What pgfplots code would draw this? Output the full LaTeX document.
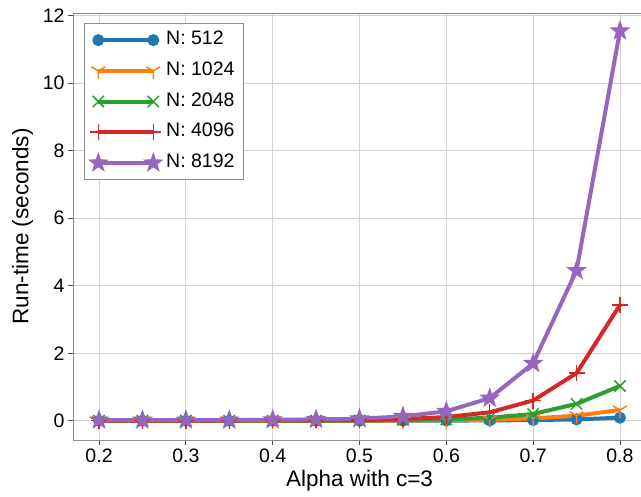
\documentclass[border=0pt]{standalone}
\usepackage{pgfplots}
\pgfplotsset{compat=1.18}
\usepackage{fontspec}
\setmainfont{Liberation Sans}
\definecolor{c0}{HTML}{1F77B4}
\definecolor{c1}{HTML}{FF7F0E}
\definecolor{c2}{HTML}{2CA02C}
\definecolor{c3}{HTML}{D62728}
\definecolor{c4}{HTML}{9467BD}
\pgfdeclareplotmark{fstar}{%
  \pgfpathmoveto{\pgfqpointpolar{90}{1.25\pgfplotmarksize}}%
  \pgfpathlineto{\pgfqpointpolar{126}{0.5\pgfplotmarksize}}%
  \pgfpathlineto{\pgfqpointpolar{162}{1.25\pgfplotmarksize}}%
  \pgfpathlineto{\pgfqpointpolar{198}{0.5\pgfplotmarksize}}%
  \pgfpathlineto{\pgfqpointpolar{234}{1.25\pgfplotmarksize}}%
  \pgfpathlineto{\pgfqpointpolar{270}{0.5\pgfplotmarksize}}%
  \pgfpathlineto{\pgfqpointpolar{306}{1.25\pgfplotmarksize}}%
  \pgfpathlineto{\pgfqpointpolar{342}{0.5\pgfplotmarksize}}%
  \pgfpathlineto{\pgfqpointpolar{18}{1.25\pgfplotmarksize}}%
  \pgfpathlineto{\pgfqpointpolar{54}{0.5\pgfplotmarksize}}%
  \pgfpathclose\pgfusepathqfillstroke}
\begin{document}
\begin{tikzpicture}
\begin{axis}[
  scale only axis,
  width=573pt, height=427pt,
  xmin=0.17, xmax=0.83,
  ymin=-0.57, ymax=12.08,
  xtick={0.2,0.3,0.4,0.5,0.6,0.7,0.8},
  ytick={0,2,4,6,8,10,12},
  xticklabel style={/pgf/number format/.cd, fixed, fixed zerofill, precision=1},
  /pgf/number format/assume math mode=true,
  ticklabel style={font=\fontsize{19.5}{22}\selectfont},
  tick pos=left,
  tick align=outside,
  major tick length=5pt,
  every tick/.style={black!70, line width=0.8pt},
  axis line style={black!45, line width=0.8pt},
  grid=major,
  major grid style={black!18, line width=0.9pt},
  xlabel={Alpha with c=3},
  ylabel={Run-time (seconds)},
  label style={font=\fontsize{22.5}{26}\selectfont},
  xlabel style={yshift=-1pt},
  ylabel style={yshift=3pt},
  legend cell align=left,
  legend style={at={(0,1)}, anchor=north west, xshift=11pt, yshift=-10pt,
    draw=black!45, line width=0.8pt, font=\fontsize{19.5}{22}\selectfont,
    row sep=7.2pt, inner xsep=5pt, inner ysep=5pt,
    nodes={text height=13.5pt, text depth=4pt, inner ysep=3pt, inner xsep=4pt},
    /tikz/column 2/.style={column sep=5pt}},
  legend image code/.code={\draw[#1] plot coordinates {(0pt,0pt) (55pt,0pt)};},
  every axis plot/.append style={line width=4pt},
]
\addplot[c0, mark=*, mark size=5.5pt, mark options={solid, fill=c0, line width=1pt}] coordinates {
(0.2,0.001) (0.25,0.001) (0.3,0.001) (0.35,0.001) (0.4,0.001) (0.45,0.001) (0.5,0.002)
(0.55,0.003) (0.6,0.005) (0.65,0.01) (0.7,0.02) (0.75,0.04) (0.8,0.09)};
\addlegendentry{N: 512}
\addplot[c1, mark=Mercedes star flipped, mark size=8pt, mark options={solid, line width=1.5pt}] coordinates {
(0.2,0.002) (0.25,0.002) (0.3,0.002) (0.35,0.002) (0.4,0.002) (0.45,0.003) (0.5,0.004)
(0.55,0.007) (0.6,0.013) (0.65,0.03) (0.7,0.07) (0.75,0.15) (0.8,0.32)};
\addlegendentry{N: 1024}
\addplot[c2, mark=x, mark size=8pt, mark options={solid, line width=1.5pt}] coordinates {
(0.2,0.003) (0.25,0.003) (0.3,0.003) (0.35,0.003) (0.4,0.004) (0.45,0.006) (0.5,0.01)
(0.55,0.02) (0.6,0.04) (0.65,0.09) (0.7,0.2) (0.75,0.5) (0.8,1.03)};
\addlegendentry{N: 2048}
\addplot[c3, mark=+, mark size=8pt, mark options={solid, line width=1.5pt}] coordinates {
(0.2,0.006) (0.25,0.006) (0.3,0.006) (0.35,0.007) (0.4,0.009) (0.45,0.013) (0.5,0.022)
(0.55,0.05) (0.6,0.11) (0.65,0.25) (0.7,0.6) (0.75,1.41) (0.8,3.43)};
\addlegendentry{N: 4096}
\addplot[c4, mark=fstar, mark size=7.5pt, mark options={solid, fill=c4, line width=1pt}] coordinates {
(0.2,0.02) (0.25,0.02) (0.3,0.02) (0.35,0.02) (0.4,0.03) (0.45,0.04) (0.5,0.06)
(0.55,0.13) (0.6,0.28) (0.65,0.67) (0.7,1.7) (0.75,4.45) (0.8,11.55)};
\addlegendentry{N: 8192}
\end{axis}
\pgfresetboundingbox
\path ([xshift=-73pt,yshift=-57pt]current axis.south west) rectangle ([xshift=568pt,yshift=13pt]current axis.north west);
\end{tikzpicture}
\end{document}
